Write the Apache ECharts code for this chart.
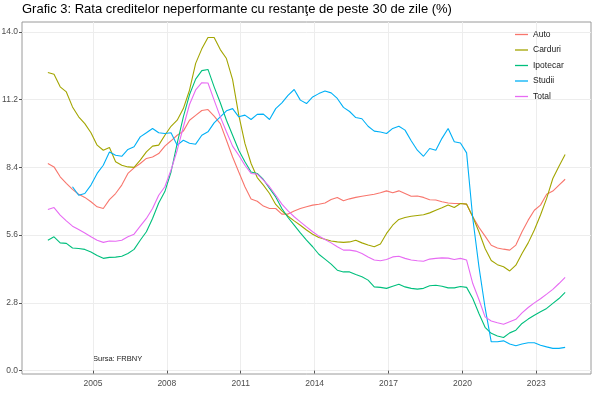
<!DOCTYPE html>
<html lang="ro">
<head>
    <meta charset="UTF-8">
    <title>Grafic 3</title>
    <script type="text/javascript" src="https://cdn.jsdelivr.net/npm/echarts@6/dist/echarts.min.js"></script>
    <style>
        html, body { margin: 0; padding: 0; background: #fff; }
    </style>
</head>
<body>
    <div id="main" style="width: 600px; height: 399px;"></div>
    <script type="text/javascript">
        // date trimestriale 2003T1 - 2024T1 (ani zecimali)
        var firstQuarter = 2003.17;
        var quarters = [];
        for (var i = 0; i < 85; i++) quarters.push(firstQuarter + i / 4);

        var xTicks = [2005, 2008, 2011, 2014, 2017, 2020, 2023];
        var yTicks = [0, 2.8, 5.6, 8.4, 11.2, 14];

        var auto = [8.56, 8.42, 8.01, 7.74, 7.49, 7.29, 7.16, 6.98, 6.77, 6.70,
            7.07, 7.32, 7.67, 8.15, 8.38, 8.56, 8.77, 8.83, 8.97, 9.28,
            9.50, 9.73, 9.90, 10.35, 10.55, 10.75, 10.79, 10.52, 10.21, 9.52,
            8.83, 8.21, 7.60, 7.09, 7.00, 6.80, 6.70, 6.70, 6.47, 6.47,
            6.60, 6.70, 6.77, 6.84, 6.88, 6.93, 7.07, 7.16, 7.02, 7.10,
            7.16, 7.21, 7.25, 7.29, 7.35, 7.43, 7.35, 7.43, 7.32, 7.21,
            7.22, 7.16, 7.06, 7.05, 6.98, 6.93, 6.91, 6.91, 6.88, 6.36,
            5.92, 5.56, 5.18, 5.07, 5.02, 4.98, 5.19, 5.74, 6.22, 6.63,
            6.84, 7.29, 7.42, 7.67, 7.91];

        var carduri = [12.32, 12.25, 11.73, 11.52, 10.90, 10.49, 10.21, 9.83, 9.32, 9.11,
            9.22, 8.63, 8.49, 8.42, 8.40, 8.70, 9.04, 9.28, 9.32, 9.73,
            10.10, 10.35, 10.83, 11.59, 12.70, 13.30, 13.77, 13.77, 13.27, 12.90,
            12.03, 10.56, 9.39, 8.56, 7.98, 7.67, 7.32, 6.87, 6.60, 6.38,
            6.19, 6.01, 5.81, 5.64, 5.50, 5.43, 5.36, 5.32, 5.30, 5.32,
            5.39, 5.28, 5.19, 5.12, 5.23, 5.67, 6.01, 6.25, 6.33, 6.38,
            6.41, 6.44, 6.52, 6.63, 6.73, 6.85, 6.74, 6.91, 6.88, 6.36,
            5.74, 5.05, 4.55, 4.38, 4.29, 4.12, 4.36, 4.84, 5.28, 5.81,
            6.43, 7.12, 7.94, 8.45, 8.93];

        var ipotecar = [5.39, 5.53, 5.28, 5.26, 5.07, 5.05, 5.01, 4.90, 4.76, 4.64,
            4.68, 4.69, 4.73, 4.84, 5.01, 5.39, 5.74, 6.29, 6.93, 7.40,
            8.21, 9.39, 10.49, 11.40, 12.05, 12.40, 12.45, 11.73, 11.07, 10.35,
            9.73, 9.11, 8.63, 8.21, 8.15, 7.90, 7.53, 7.18, 6.70, 6.33,
            6.01, 5.69, 5.39, 5.12, 4.81, 4.61, 4.40, 4.15, 4.08, 4.08,
            3.97, 3.88, 3.74, 3.46, 3.44, 3.40, 3.49, 3.57, 3.46, 3.40,
            3.37, 3.40, 3.51, 3.53, 3.49, 3.42, 3.42, 3.48, 3.44, 2.98,
            2.36, 1.79, 1.54, 1.43, 1.37, 1.56, 1.67, 1.95, 2.13, 2.29,
            2.43, 2.57, 2.78, 2.98, 3.23];

        var studii = [null, null, null, null, 7.60, 7.25, 7.32, 7.67, 8.15, 8.49,
            9.04, 8.90, 8.86, 9.14, 9.25, 9.66, 9.83, 10.01, 9.83, 9.80,
            9.83, 9.32, 9.52, 9.40, 9.36, 9.73, 9.87, 10.24, 10.49, 10.74,
            10.83, 10.49, 10.56, 10.38, 10.59, 10.60, 10.38, 10.83, 11.07, 11.38,
            11.62, 11.18, 11.04, 11.31, 11.45, 11.56, 11.48, 11.25, 10.88, 10.71,
            10.46, 10.41, 10.10, 9.90, 9.86, 9.80, 10.01, 10.10, 9.94, 9.50,
            9.11, 8.86, 9.18, 9.11, 9.60, 10.01, 9.46, 9.41, 9.00, 6.30,
            4.30, 2.60, 1.19, 1.19, 1.23, 1.10, 1.03, 1.10, 1.15, 1.15,
            1.05, 0.98, 0.92, 0.92, 0.96];

        var total = [6.66, 6.74, 6.43, 6.19, 5.97, 5.83, 5.69, 5.53, 5.39, 5.30,
            5.36, 5.35, 5.39, 5.53, 5.64, 5.97, 6.29, 6.70, 7.25, 7.60,
            8.29, 9.11, 10.07, 11.00, 11.60, 11.90, 11.89, 11.18, 10.49, 9.87,
            9.28, 8.90, 8.49, 8.15, 8.12, 7.87, 7.60, 7.25, 6.88, 6.60,
            6.36, 6.15, 5.94, 5.74, 5.56, 5.42, 5.28, 5.12, 4.98, 4.98,
            4.94, 4.84, 4.70, 4.57, 4.54, 4.59, 4.70, 4.73, 4.64, 4.57,
            4.54, 4.52, 4.61, 4.64, 4.66, 4.65, 4.59, 4.64, 4.57, 3.60,
            2.94, 2.22, 2.05, 1.98, 1.92, 2.02, 2.12, 2.39, 2.61, 2.80,
            2.97, 3.16, 3.36, 3.60, 3.85];

        var seriesNames = ['Auto', 'Carduri', 'Ipotecar', 'Studii', 'Total'];
        var seriesValues = [auto, carduri, ipotecar, studii, total];
        var colors = ['#F8766D', '#A3A500', '#00BF7D', '#00B0F6', '#E76BF3'];

        var font = 'Liberation Sans, Arial, sans-serif';

        function pairs(values) {
            return values.map(function (v, i) { return [quarters[i], v]; });
        }

        var myChart = echarts.init(document.getElementById('main'));

        var option = {
            animation: false,
            color: colors,
            textStyle: { fontFamily: font },
            title: {
                text: 'Grafic 3: Rata creditelor neperformante cu restanţe de peste 30 de zile (%)',
                left: 22,
                top: 3,
                padding: 0,
                textStyle: { fontSize: 13, fontWeight: 'normal', color: '#000', fontFamily: font }
            },
            legend: {
                data: seriesNames,
                orient: 'vertical',
                left: 515,
                top: 30,
                padding: 0,
                icon: 'rect',
                itemWidth: 13,
                itemHeight: 1.3,
                itemGap: 6.5,
                textStyle: { fontSize: 8.5, color: '#1a1a1a', fontFamily: font }
            },
            grid: {
                left: 22,
                right: 9,
                top: 22,
                bottom: 25,
                show: true,
                borderColor: '#9a9a9a',
                borderWidth: 1,
                outerBoundsMode: 'none'
            },
            xAxis: {
                type: 'value',
                min: 2002.12,
                max: 2025.22,
                axisLine: { show: false },
                axisTick: { show: true, customValues: xTicks, length: 3, lineStyle: { color: '#555' } },
                axisLabel: {
                    customValues: xTicks,
                    formatter: function (v) { return String(v); },
                    fontSize: 8.5,
                    color: '#4d4d4d',
                    margin: 5
                },
                splitLine: { show: true, lineStyle: { color: '#ededed', width: 1 } }
            },
            yAxis: {
                type: 'value',
                min: -0.14,
                max: 14.41,
                axisLine: { show: false },
                axisTick: { show: true, customValues: yTicks, length: 3, lineStyle: { color: '#555' } },
                axisLabel: {
                    customValues: yTicks,
                    formatter: function (v) { return v.toFixed(1); },
                    fontSize: 8.5,
                    color: '#4d4d4d',
                    margin: 4
                },
                splitLine: { show: true, lineStyle: { color: '#ededed', width: 1 } }
            },
            graphic: [{
                type: 'text',
                left: 93,
                top: 355,
                style: { text: 'Sursa: FRBNY', fontSize: 7.5, fill: '#222', fontFamily: font }
            }],
            series: seriesNames.map(function (name, k) {
                return {
                    name: name,
                    type: 'line',
                    data: pairs(seriesValues[k]),
                    symbol: 'none',
                    lineStyle: { width: 1.1 },
                    emphasis: { disabled: true }
                };
            })
        };

        myChart.setOption(option);
    </script>
</body>
</html>
